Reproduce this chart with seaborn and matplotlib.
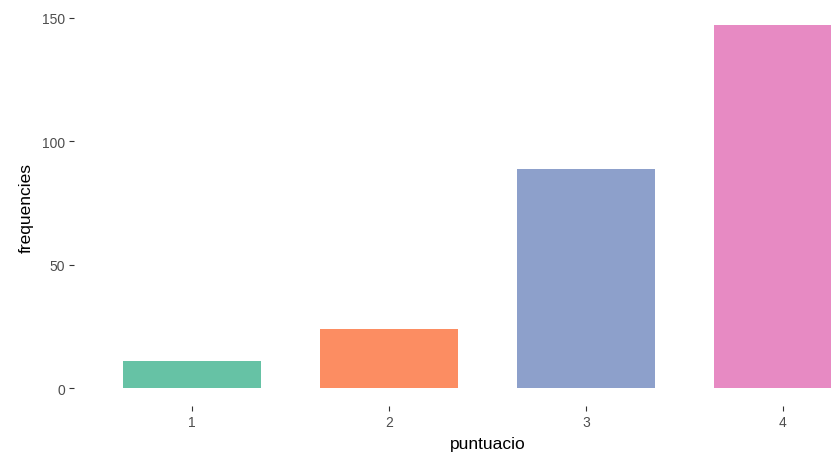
import seaborn as sns
import matplotlib.pyplot as plt
import pandas as pd

puntuacio = ["1", "2", "3", "4"]
frequencies = [11, 24, 89, 147]

df = pd.DataFrame({"puntuacio": puntuacio, "frequencies": frequencies})

sns.set_theme(style="white")
plt.rcParams["font.family"] = ["Liberation Sans", "DejaVu Sans"]

fig = plt.figure(figsize=(8.31, 4.56), dpi=100)
ax = fig.add_axes([74 / 831, 1 - 407.4 / 456, 827 / 831, (407.4 - 8.2) / 456])

sns.barplot(x="puntuacio", y="frequencies", hue="puntuacio", data=df,
            palette="Set2", width=0.7, legend=False, saturation=1,
            linewidth=0, ax=ax)

ax.set_xlim(-0.6, 3.6)
ax.set_ylim(-7.35, 154.35)
ax.set_yticks([0, 50, 100, 150])
sns.despine(ax=ax, left=True, bottom=True)
ax.tick_params(axis="both", colors="#333333", labelcolor="#4D4D4D",
               labelsize=10, length=3.5, width=0.8, left=True, bottom=True, pad=3)
ax.set_xlabel("puntuacio", fontsize=12.5, color="black", labelpad=5)
ax.set_ylabel("frequencies", fontsize=12.5, color="black", labelpad=6)

fig.savefig("out.png", dpi=100)
